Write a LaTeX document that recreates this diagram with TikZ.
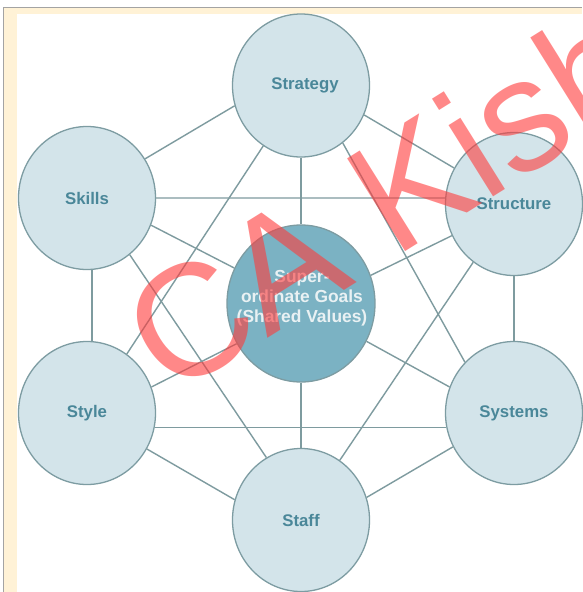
\documentclass[tikz,border=0pt]{standalone}
\usepackage{fontspec}
\setmainfont{Liberation Sans}
\usetikzlibrary{shapes.geometric}
\definecolor{bordergray}{HTML}{A3A3A3}
\definecolor{beige}{HTML}{FFF2D6}
\definecolor{ofill}{HTML}{D3E4EA}
\definecolor{ostroke}{HTML}{7D9CA2}
\definecolor{linec}{HTML}{7E9B9F}
\definecolor{labelc}{HTML}{4A8799}
\definecolor{cfill}{HTML}{7BB2C3}
\definecolor{ctext}{HTML}{E9F1F3}
\definecolor{wm}{HTML}{FF3A3A}
\begin{document}
\begin{tikzpicture}[x=1pt,y=-1pt,
  outer/.style={ellipse, draw=ostroke, line width=1.3pt, fill=ofill,
    minimum width=137pt, minimum height=143pt, inner sep=0pt,
    font=\bfseries\fontsize{16.8}{18}\selectfont, text=labelc},
  hub/.style={ellipse, draw=ostroke, line width=1.3pt, fill=cfill,
    minimum width=148pt, minimum height=157pt, inner sep=0pt},
  hubtext/.style={align=center, inner sep=0pt, text=ctext,
    font=\bfseries\fontsize{17.4}{20}\selectfont},
  conn/.style={draw=linec, line width=1.4pt},
  mark wm/.style={rotate=32, anchor=base west, inner sep=0pt, text=wm,
    opacity=0.6, font=\fontsize{159}{159}\selectfont}]
\useasboundingbox (0,0) rectangle (582,592);
% frame
\fill[beige] (4,8) rectangle (582,592);
\fill[white] (17,13.5) rectangle (582,592);
\draw[bordergray, line width=1.5pt] (3.5,592) -- (3.5,7.5) -- (582,7.5);
% nodes
\node[outer] (strategy)  at (301,85.5) {\hspace{8pt}Strategy};
\node[outer] (skills)    at (87,198)   {Skills};
\node[outer] (structure) at (514,204)  {Structure};
\node[outer] (style)     at (87,413)   {Style};
\node[outer] (systems)   at (514,413)  {Systems};
\node[outer] (staff)     at (301,520)  {Staff};
\node[hub]   (hub)       at (301,303.5) {};
\node[hubtext] (hubl)    at (302,298) {Super-\\ordinate Goals\\(Shared Values)};
% connectors
\draw[conn] (skills.34) -- (strategy.197);
\draw[conn] (strategy.-25) -- (structure.149);
\draw[conn] (strategy.south) -- (hub.north);
\draw[conn] (strategy.238) -- (style.56);
\draw[conn] (strategy.-54) -- (systems.134);
\draw[conn] (skills.0) -- (structure.175);
\draw[conn] (skills.-23) -- (hub.152);
\draw[conn] (skills.-53) -- (staff.119);
\draw[conn] (skills.-86) -- (style.86);
\draw[conn] (structure.south) -- (systems.north);
\draw[conn] (structure.207) -- (hub.22);
\draw[conn] (structure.235) -- (staff.57);
\draw[conn] (style.22) -- (hub.212);
\draw[conn] (style.-12) -- (systems.192);
\draw[conn] (style.-31) -- (staff.163);
\draw[conn] (systems.158) -- (hub.-30);
\draw[conn] (systems.209) -- (staff.19);
\draw[conn] (hub.south) -- (staff.north);
% watermark
\node[mark wm] (wmark) at (170,399) {CA Kish};
\end{tikzpicture}
\end{document}
